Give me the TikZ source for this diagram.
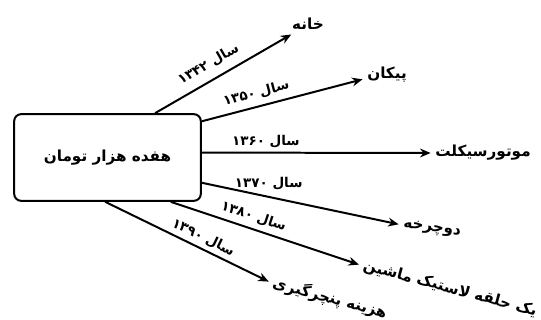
\documentclass[tikz,border=0pt]{standalone}
\usepackage{fontspec}
\newfontfamily\farsi[Script=Arabic]{DejaVu Sans}
\TeXXeTstate=1
\usetikzlibrary{positioning, arrows.meta}
\newcommand{\fa}[1]{{\farsi\bfseries\beginR #1\endR}}
\tikzset{
	>={Stealth[length=9pt, width=7.5pt]},
	link/.style={draw, ->},
	box/.style={draw, rounded corners=6pt, minimum width=5.6cm, minimum height=2.6cm, font=\fontsize{13}{15}\selectfont},
	target/.style={inner sep=1pt, outer sep=3pt, font=\fontsize{13}{15}\selectfont},
	year/.style={inner sep=0pt, font=\fontsize{11.5}{13}\selectfont}
}

\begin{document}
\begin{tikzpicture}
	[ x=0.03cm, y=-0.03cm, line width=1.7pt ]
	\useasboundingbox (0,0) rectangle (541,320);
	\node (toman) [box] at (107.5,157.5) {\fa{هفده هزار تومان}};
	\node (khane) [target] at (308,24) {\fa{خانه}};
	\node (peykan) [target] at (387,75) {\fa{پیکان}};
	\node (motor) [target] at (483,153) {\fa{موتورسیکلت}};
	\node (docharkhe) [target, rotate=-8] at (432,229) {\fa{دوچرخه}};
	\node (lastik) [target, rotate=-15] at (450,289) {\fa{یک حلقه لاستیک ماشین}};
	\node (panchar) [target, rotate=-15] at (330,298) {\fa{هزینه پنچرگیری}};
	\path
	(toman.43) edge[link] node[year, sloped, above=7pt, pos=0.45]{\fa{سال ۱۳۴۲}} (khane.212)
	(toman.21) edge[link] node[year, sloped, above=5pt, pos=0.36]{\fa{سال ۱۳۵۰}} (peykan.190)
	(toman.3) edge[link] node[year, above=3pt, pos=0.28]{\fa{سال ۱۳۶۰}} (motor.west)
	(toman.-15) edge[link] node[year, above=5pt, pos=0.34]{\fa{سال ۱۳۷۰}} (docharkhe.west)
	(toman.-35.5) edge[link] node[year, sloped, above=4pt, pos=0.42]{\fa{سال ۱۳۸۰}} (lastik.west)
	(toman.-93) edge[link] node[year, sloped, above=3pt, pos=0.57]{\fa{سال ۱۳۹۰}} (panchar.west)
	;
\end{tikzpicture}
\end{document}
